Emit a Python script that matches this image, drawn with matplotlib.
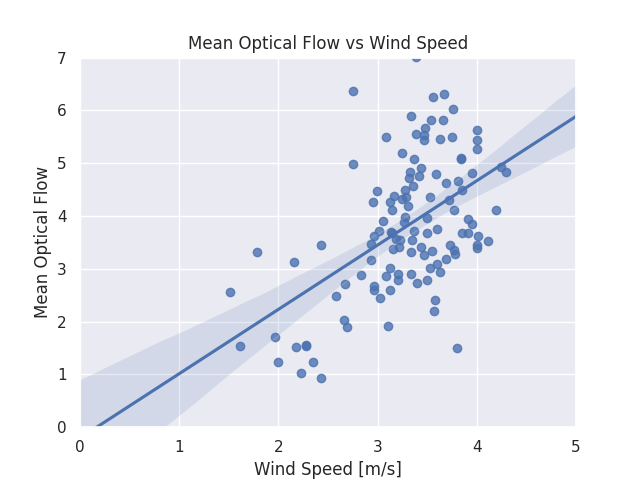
import numpy as np
import pandas as pd
import matplotlib
matplotlib.use("Agg")
import matplotlib.pyplot as plt
import seaborn as sns

# valeurs
wind_speed = [
    1.51, 1.61, 1.78, 1.97, 2.00, 2.16, 2.18, 2.23, 2.28, 2.28, 2.35, 2.43, 2.43,
    2.58, 2.67, 2.66, 2.69, 2.75, 2.75, 2.83, 2.93, 2.93, 2.96, 2.95, 2.96, 2.96,
    2.99, 3.01, 3.02, 3.05, 3.08, 3.08, 3.10, 3.12, 3.13, 3.13, 3.14, 3.15, 3.15,
    3.16, 3.17, 3.19, 3.21, 3.21, 3.22, 3.23, 3.25, 3.25, 3.27, 3.28, 3.28, 3.29,
    3.31, 3.32, 3.33, 3.34, 3.34, 3.34, 3.35, 3.36, 3.37, 3.37, 3.39, 3.39, 3.40,
    3.42, 3.44, 3.44, 3.47, 3.47, 3.47, 3.48, 3.50, 3.50, 3.50, 3.53, 3.53, 3.54,
    3.55, 3.56, 3.57, 3.58, 3.59, 3.60, 3.60, 3.63, 3.63, 3.66, 3.67, 3.69, 3.69,
    3.72, 3.73, 3.75, 3.76, 3.77, 3.77, 3.78, 3.80, 3.81, 3.84, 3.84, 3.85, 3.85,
    3.91, 3.91, 3.95, 3.95, 4.00, 4.00, 4.00, 4.01, 4.00, 4.00, 4.11, 4.19, 4.24,
    4.29,
]
optical_flow = [
    2.56, 1.54, 3.32, 1.71, 1.23, 3.13, 1.52, 1.02, 1.56, 1.54, 1.23, 3.45, 0.93,
    2.49, 2.72, 2.03, 1.90, 6.36, 4.98, 2.88, 3.47, 3.17, 3.62, 4.26, 2.67, 2.60,
    4.48, 3.72, 2.45, 3.90, 5.50, 2.86, 1.92, 3.01, 4.26, 2.60, 3.70, 3.68, 4.11,
    3.38, 4.38, 3.57, 2.90, 2.79, 3.41, 3.55, 4.32, 5.19, 3.88, 3.99, 4.50, 4.36,
    4.18, 4.72, 4.84, 5.90, 3.32, 2.90, 3.55, 4.57, 5.08, 3.72, 7.01, 5.56, 2.73,
    4.76, 4.90, 3.41, 5.53, 5.43, 3.27, 5.66, 3.97, 3.68, 2.79, 4.36, 3.01, 5.81,
    3.34, 6.26, 2.20, 2.41, 4.79, 3.75, 3.09, 5.46, 2.94, 5.81, 6.32, 4.62, 3.19,
    4.30, 3.46, 5.50, 6.03, 4.11, 3.36, 3.28, 1.50, 4.67, 5.10, 5.08, 4.50, 3.68,
    3.95, 3.68, 4.81, 3.85, 5.62, 5.44, 5.26, 3.62, 3.46, 3.39, 3.53, 4.12, 4.92,
    4.83,
]

df = pd.DataFrame({"wind": wind_speed, "flow": optical_flow})

sns.set_theme(style="darkgrid")

fig, ax = plt.subplots(figsize=(6.4, 4.8), dpi=100)
# limites posées avant regplot pour que la droite couvre tout l'axe
ax.set_xlim(0, 5)
ax.set_ylim(0, 7)
sns.regplot(data=df, x="wind", y="flow", ax=ax, truncate=False, seed=0)

ax.set_xlim(0, 5)
ax.set_ylim(0, 7)
ax.set_xlabel("Wind Speed [m/s]")
ax.set_ylabel("Mean Optical Flow")
ax.set_title("Mean Optical Flow vs Wind Speed")

fig.savefig("out.png")
